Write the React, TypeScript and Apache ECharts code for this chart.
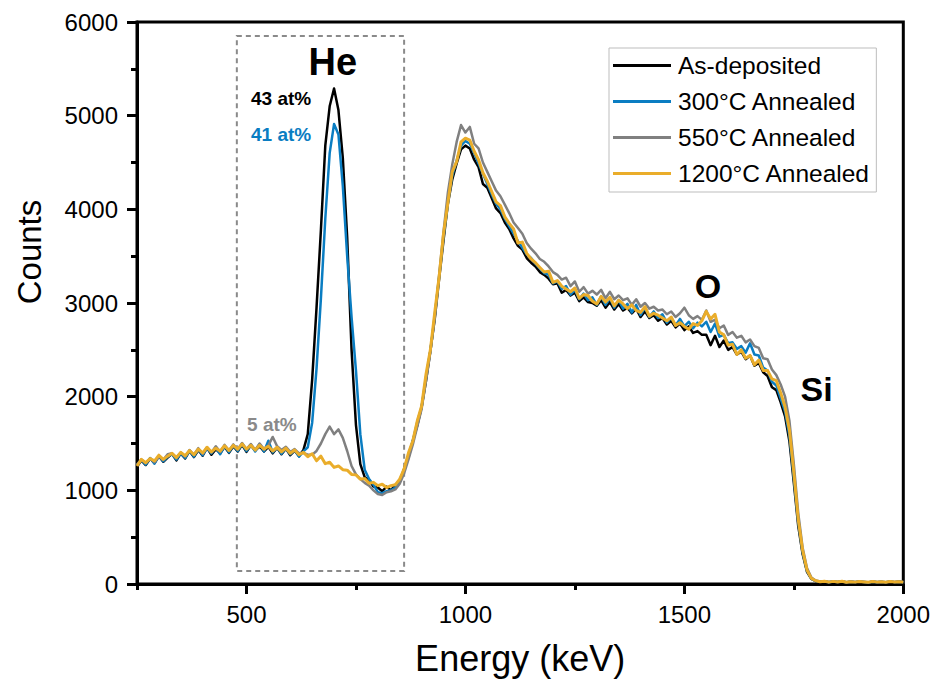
import React, { useEffect, useRef } from "react";
import * as echarts from "echarts";

// Channel energies (keV)
const energy = [
  250, 260, 270, 280, 290, 300, 310, 320, 330, 340,
  350, 360, 370, 380, 390, 400, 410, 420, 430, 440,
  450, 460, 470, 480, 490, 500, 510, 520, 530, 540,
  550, 560, 570, 580, 590, 600, 610, 620, 630, 640,
  650, 660, 670, 680, 690, 700, 710, 720, 730, 740,
  750, 760, 770, 780, 790, 800, 810, 820, 830, 840,
  850, 860, 870, 880, 890, 900, 910, 920, 930, 940,
  950, 960, 970, 980, 990, 1000, 1010, 1020, 1030, 1040,
  1050, 1060, 1070, 1080, 1090, 1100, 1110, 1120, 1130, 1140,
  1150, 1160, 1170, 1180, 1190, 1200, 1210, 1220, 1230, 1240,
  1250, 1260, 1270, 1280, 1290, 1300, 1310, 1320, 1330, 1340,
  1350, 1360, 1370, 1380, 1390, 1400, 1410, 1420, 1430, 1440,
  1450, 1460, 1470, 1480, 1490, 1500, 1510, 1520, 1530, 1540,
  1550, 1560, 1570, 1580, 1590, 1600, 1610, 1620, 1630, 1640,
  1650, 1660, 1670, 1680, 1690, 1700, 1710, 1720, 1730, 1740,
  1750, 1760, 1770, 1780, 1790, 1800, 1810, 1820, 1830, 1840,
  1850, 1860, 1870, 1880, 1890, 1900, 1910, 1920, 1930, 1940,
  1950, 1960, 1970, 1980, 1990, 2000,
];

const asDeposited = [
  1250, 1320, 1270, 1340, 1290, 1365, 1305, 1350, 1390, 1320,
  1395, 1340, 1420, 1355, 1430, 1370, 1455, 1380, 1440, 1395,
  1465, 1400, 1470, 1415, 1485, 1410, 1480, 1425, 1470, 1415,
  1465, 1395, 1455, 1385, 1445, 1375, 1425, 1365, 1430, 1600,
  2180, 2950, 3780, 4680, 5100, 5290, 5060, 4550, 3700, 2500,
  1700, 1280, 1140, 1110, 1040, 1030, 990, 1040, 1000, 1060,
  1090, 1230, 1350, 1530, 1690, 1890, 2170, 2490, 2830, 3260,
  3670, 4060, 4320, 4490, 4640, 4680, 4650, 4530, 4450, 4270,
  4230, 4120, 4010, 3960, 3860, 3790, 3690, 3610, 3570, 3480,
  3430, 3390, 3330, 3300, 3260, 3200, 3210, 3110, 3140, 3080,
  3110, 3020, 3060, 3010, 3000, 2970, 3030, 2950, 3010, 2930,
  2990, 2920, 2950, 2890, 2940, 2850, 2910, 2840, 2870, 2810,
  2840, 2770, 2810, 2740, 2780, 2710, 2750, 2680, 2700, 2660,
  2660, 2550, 2650, 2530, 2600, 2500, 2530, 2450, 2480, 2400,
  2440, 2330, 2360, 2260, 2220, 2100, 2070, 1940, 1790, 1520,
  1080, 620, 320, 130, 55, 30, 22, 26, 18, 24,
  20, 26, 17, 23, 19, 25, 20, 16, 24, 18,
  22, 17, 25, 19, 23, 18,
];

const annealed300 = [
  1270, 1325, 1275, 1345, 1285, 1370, 1310, 1360, 1385, 1330,
  1395, 1345, 1425, 1360, 1440, 1375, 1450, 1395, 1460, 1385,
  1475, 1405, 1480, 1420, 1495, 1420, 1485, 1415, 1495, 1415,
  1530, 1405, 1460, 1390, 1450, 1385, 1430, 1360, 1415, 1460,
  1720, 2300, 3050, 3900, 4600, 4910, 4800, 4250, 3500, 2850,
  2280, 1600, 1220, 1120, 1060, 980, 970, 990, 1000, 1030,
  1110, 1220, 1380, 1530, 1730, 1890, 2210, 2490, 2870, 3280,
  3710, 4070, 4360, 4520, 4680, 4730, 4700, 4600, 4490, 4380,
  4270, 4160, 4060, 4000, 3900, 3820, 3740, 3660, 3590, 3520,
  3480, 3420, 3370, 3320, 3300, 3210, 3230, 3150, 3180, 3090,
  3140, 3040, 3100, 3030, 3060, 2980, 3070, 2980, 3050, 2950,
  3030, 2940, 2990, 2900, 2980, 2870, 2950, 2850, 2910, 2840,
  2880, 2790, 2840, 2760, 2830, 2750, 2800, 2730, 2790, 2750,
  2800, 2690, 2780, 2640, 2660, 2570, 2580, 2510, 2540, 2470,
  2570, 2450, 2440, 2310, 2280, 2160, 2120, 1980, 1840, 1580,
  1130, 660, 340, 140, 58, 32, 24, 28, 19, 26,
  21, 28, 18, 24, 20, 26, 21, 17, 25, 19,
  23, 18, 26, 20, 24, 19,
];

const annealed550 = [
  1275, 1330, 1290, 1340, 1300, 1360, 1325, 1385, 1395, 1350,
  1405, 1360, 1430, 1380, 1450, 1390, 1460, 1405, 1470, 1410,
  1485, 1425, 1490, 1435, 1505, 1440, 1495, 1430, 1500, 1440,
  1480, 1570, 1470, 1430, 1465, 1410, 1440, 1395, 1400, 1380,
  1380, 1420, 1500, 1600, 1680, 1600, 1650, 1560, 1420, 1260,
  1170, 1120, 1080, 1050, 1000, 960, 950, 980, 990, 1010,
  1070, 1180, 1330, 1490, 1680, 1870, 2170, 2480, 2850, 3300,
  3760, 4180, 4480, 4720, 4900, 4820, 4880, 4700, 4650, 4500,
  4400, 4300, 4200, 4140, 4050, 3960, 3860, 3800, 3740, 3640,
  3580, 3530, 3470, 3440, 3390, 3330, 3300, 3250, 3270, 3180,
  3230, 3120, 3170, 3100, 3130, 3090, 3140, 3050, 3120, 3040,
  3080, 3030, 3050, 2980, 3040, 2960, 3000, 2940, 2960, 2920,
  2930, 2880, 2910, 2850, 2890, 2950, 2870, 2830, 2860, 2820,
  2920, 2800, 2820, 2730, 2760, 2660, 2690, 2630, 2650, 2580,
  2610, 2540, 2520, 2410, 2400, 2290, 2230, 2130, 2000, 1740,
  1280, 760, 390, 170, 70, 38, 26, 30, 22, 28,
  23, 29, 19, 26, 21, 28, 23, 18, 27, 21,
  25, 20, 28, 22, 26, 21,
];

const annealed1200 = [
  1260, 1330, 1295, 1340, 1315, 1375, 1330, 1365, 1395, 1350,
  1405, 1370, 1425, 1380, 1440, 1400, 1460, 1410, 1450, 1420,
  1475, 1425, 1480, 1440, 1495, 1440, 1480, 1430, 1480, 1440,
  1470, 1420, 1460, 1410, 1450, 1395, 1430, 1380, 1405, 1360,
  1390, 1315, 1365, 1285, 1300, 1245, 1260, 1220, 1215, 1170,
  1165, 1120, 1125, 1075, 1085, 1050, 1065, 1030, 1050, 1060,
  1120, 1230, 1400, 1530, 1740, 1900, 2240, 2500, 2900, 3280,
  3740, 4070, 4400, 4510, 4720, 4760, 4740, 4620, 4530, 4390,
  4300, 4190, 4080, 4040, 3920, 3850, 3790, 3640, 3650, 3530,
  3470, 3430, 3380, 3330, 3340, 3220, 3240, 3180, 3150, 3120,
  3160, 3050, 3090, 3080, 3020, 2990, 3070, 3010, 3060, 2970,
  3030, 2990, 2940, 2980, 2920, 2900, 2960, 2860, 2890, 2870,
  2840, 2810, 2850, 2760, 2790, 2750, 2720, 2780, 2760, 2810,
  2910, 2830, 2880, 2690, 2660, 2550, 2560, 2450, 2500, 2410,
  2440, 2340, 2390, 2280, 2280, 2190, 2170, 2040, 1890, 1640,
  1190, 690, 360, 150, 60, 35, 25, 30, 20, 28,
  22, 30, 18, 25, 20, 27, 22, 18, 26, 20,
  24, 19, 27, 21, 25, 20,
];

const seriesNames = [
  "As-deposited",
  "300°C Annealed",
  "550°C Annealed",
  "1200°C Annealed",
];
const seriesValues = [asDeposited, annealed300, annealed550, annealed1200];
const seriesColors = ["#000000", "#0a7dc2", "#808080", "#eaad2a"];
const seriesWidths = [2.5, 2.5, 2.5, 3];

// Axis ticks
const xMajorTicks = [500, 1000, 1500, 2000];
const xMinorTicks = [250, 750, 1250, 1750];

// Text annotations placed in data space (energy, counts)
const annotationText = ["He", "O", "Si", "43 at%", "41 at%", "5 at%"];
const annotationEnergy = [697, 1554, 1802, 579, 579, 558];
const annotationCounts = [5573, 3181, 2082, 5188, 4804, 1708];
const annotationColor = ["#000", "#000", "#000", "#000", "#0a7dc2", "#8a8a8a"];
const annotationSize = [38, 34, 34, 19, 19, 19];

// Dashed window around the He region
const heWindowEnergy = [478, 860];
const heWindowCounts = [140, 5850];

const FONT = "'Liberation Sans', Arial, Helvetica, sans-serif";

export default function App() {
  const ref = useRef<HTMLDivElement>(null);

  useEffect(() => {
    if (!ref.current) return;
    const chart = echarts.init(ref.current, undefined, { renderer: "svg" });

    const lineSeries = seriesNames.map((name, k) => ({
      name,
      type: "line",
      data: energy.map((e, i) => [e, seriesValues[k][i]]),
      showSymbol: false,
      symbol: "none",
      lineStyle: { color: seriesColors[k], width: seriesWidths[k], join: "round" },
      itemStyle: { color: seriesColors[k] },
      emphasis: { disabled: true },
      z: 2 + k,
    }));

    const annotationSeries = {
      name: "annotations",
      type: "scatter",
      symbolSize: 0,
      silent: true,
      z: 10,
      itemStyle: { opacity: 1 },
      data: annotationText.map((t, i) => ({
        value: [annotationEnergy[i], annotationCounts[i]],
        label: {
          show: true,
          position: "inside",
          formatter: t,
          color: annotationColor[i],
          opacity: 1,
          fontSize: annotationSize[i],
          fontWeight: "bold",
          fontFamily: FONT,
        },
      })),
      markArea: {
        silent: true,
        itemStyle: {
          color: "rgba(0,0,0,0)",
          borderColor: "#8a8a8a",
          borderWidth: 2,
          borderType: [5, 4],
        },
        data: [
          [
            { coord: [heWindowEnergy[0], heWindowCounts[1]] },
            { coord: [heWindowEnergy[1], heWindowCounts[0]] },
          ],
        ],
      },
    };

    const plain = (v: number) => String(v);

    chart.setOption({
      animation: false,
      backgroundColor: "#ffffff",
      textStyle: { fontFamily: FONT },
      grid: {
        left: 137,
        right: 29,
        top: 22,
        bottom: 100,
        show: true,
        borderColor: "#000",
        borderWidth: 3,
        backgroundColor: "transparent",
      },
      graphic: [
        {
          type: "text",
          x: 29,
          y: 252,
          rotation: Math.PI / 2,
          style: {
            text: "Counts",
            fontSize: 33,
            fontFamily: FONT,
            fill: "#000",
            align: "center",
            verticalAlign: "middle",
          },
        },
      ],
      legend: {
        data: seriesNames,
        orient: "vertical",
        left: 609,
        top: 48,
        icon: "rect",
        itemWidth: 58,
        itemHeight: 3,
        itemGap: 11,
        padding: [5, 6, 6, 4],
        borderColor: "#bdbdbd",
        borderWidth: 1,
        backgroundColor: "#fff",
        textStyle: { fontSize: 24.5, color: "#000", fontFamily: FONT, padding: [0, 0, 0, 2] },
      },
      xAxis: [
        {
          type: "value",
          min: 250,
          max: 2000,
          name: "Energy (keV)",
          nameLocation: "middle",
          nameGap: 56,
          nameTextStyle: { fontSize: 36, color: "#000", fontFamily: FONT },
          axisLine: { show: true, lineStyle: { color: "#000", width: 3 } },
          axisTick: {
            show: true,
            inside: false,
            length: 10,
            lineStyle: { color: "#000", width: 3 },
            customValues: xMajorTicks,
          },
          axisLabel: {
            customValues: xMajorTicks,
            formatter: plain,
            fontSize: 24,
            color: "#000",
            margin: 18,
            fontFamily: FONT,
          },
          splitLine: { show: false },
        },
        {
          type: "value",
          min: 250,
          max: 2000,
          position: "bottom",
          axisLine: { show: false },
          axisTick: {
            show: true,
            inside: false,
            length: 6,
            lineStyle: { color: "#000", width: 3 },
            customValues: xMinorTicks,
          },
          axisLabel: { show: false },
          splitLine: { show: false },
        },
      ],
      yAxis: {
        type: "value",
        min: 0,
        max: 6000,
        interval: 1000,
        axisLine: { show: true, lineStyle: { color: "#000", width: 3 } },
        axisTick: { show: true, inside: false, length: 10, lineStyle: { color: "#000", width: 3 } },
        minorTick: { show: true, splitNumber: 2, length: 6, lineStyle: { color: "#000", width: 3 } },
        axisLabel: { formatter: plain, fontSize: 24, color: "#000", margin: 19, fontFamily: FONT },
        splitLine: { show: false },
        minorSplitLine: { show: false },
      },
      series: [...lineSeries, annotationSeries],
    });

    return () => chart.dispose();
  }, []);

  return (
    <div
      ref={ref}
      style={{ position: "fixed", left: 0, top: 0, width: 933, height: 684, background: "#fff" }}
    />
  );
}
